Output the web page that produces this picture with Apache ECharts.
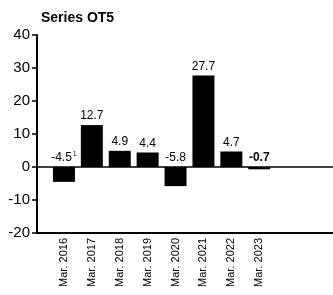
<!DOCTYPE html>
<html>
<head>
<meta charset="utf-8">
<script src="https://cdn.jsdelivr.net/npm/echarts@6/dist/echarts.min.js"></script>
<style>
html, body {margin: 0; padding: 0; background: #fff;}
#chart {width: 333px; height: 295px;}
</style>
</head>
<body>
<div id="chart"></div>
<script>
var categories = ['Mar. 2016', 'Mar. 2017', 'Mar. 2018', 'Mar. 2019', 'Mar. 2020', 'Mar. 2021', 'Mar. 2022', 'Mar. 2023'];
var values = [-4.5, 12.7, 4.9, 4.4, -5.8, 27.7, 4.7, -0.7];
var notes = ['1', '', '', '', '', '', '', ''];
var boldLabels = [false, false, false, false, false, false, false, true];
var yTicks = [-20, -10, 0, 10, 20, 30, 40];

var font = '"Liberation Sans", Arial, sans-serif';
var e = echarts.init(document.getElementById('chart'));

var barData = values.map(function (v, i) {
    return {
        value: v,
        label: {
            formatter: boldLabels[i] ? '{b|' + v + '}' : (notes[i] ? '{a|' + v + '}{s|' + notes[i] + '}' : '{a|' + v + '}')
        }
    };
});

e.setOption({
    animation: false,
    title: {
        text: 'Series OT5',
        left: 36,
        top: 6,
        textStyle: {fontFamily: font, fontSize: 14, fontWeight: 'bold', color: '#000'}
    },
    grid: [
        {left: 50, right: 4, top: 35, bottom: 62},
        {left: 37, right: 0, top: 35, bottom: 62}
    ],
    xAxis: [
        {
            type: 'category',
            gridIndex: 0,
            data: categories.concat(['', '']),
            axisLine: {show: false},
            axisTick: {show: false},
            axisLabel: {
                rotate: 90,
                interval: 0,
                margin: 5,
                padding: [6, 0, 0, 0],
                fontFamily: font,
                fontSize: 11,
                color: '#000'
            }
        },
        {
            type: 'category',
            gridIndex: 1,
            data: [''],
            axisLine: {onZero: false, lineStyle: {color: '#000', width: 2}},
            axisTick: {show: false},
            axisLabel: {show: false}
        },
        {
            type: 'category',
            gridIndex: 1,
            position: 'top',
            data: [''],
            axisLine: {onZero: true, lineStyle: {color: '#000', width: 1.5}},
            axisTick: {show: false},
            axisLabel: {show: false}
        }
    ],
    yAxis: [
        {
            type: 'value',
            gridIndex: 0,
            min: yTicks[0],
            max: yTicks[yTicks.length - 1],
            interval: 10,
            show: false
        },
        {
            type: 'value',
            gridIndex: 1,
            min: yTicks[0],
            max: yTicks[yTicks.length - 1],
            interval: 10,
            axisLine: {show: true, lineStyle: {color: '#000', width: 2}},
            axisTick: {show: true, length: 5, lineStyle: {color: '#000', width: 1.5}},
            splitLine: {show: false},
            axisLabel: {
                margin: 7,
                fontFamily: font,
                fontSize: 15,
                color: '#000'
            }
        }
    ],
    series: [{
        type: 'bar',
        xAxisIndex: 0,
        yAxisIndex: 0,
        barWidth: 22,
        data: barData,
        itemStyle: {color: '#000'},
        label: {
            show: true,
            position: 'top',
            distance: 3,
            rich: {
                a: {fontFamily: font, fontSize: 12, color: '#000'},
                b: {fontFamily: font, fontSize: 12, fontWeight: 'bold', color: '#000'},
                s: {fontFamily: font, fontSize: 7, color: '#000', verticalAlign: 'top', padding: [0, 0, 6, 1]}
            }
        }
    }]
});
</script>
</body>
</html>
